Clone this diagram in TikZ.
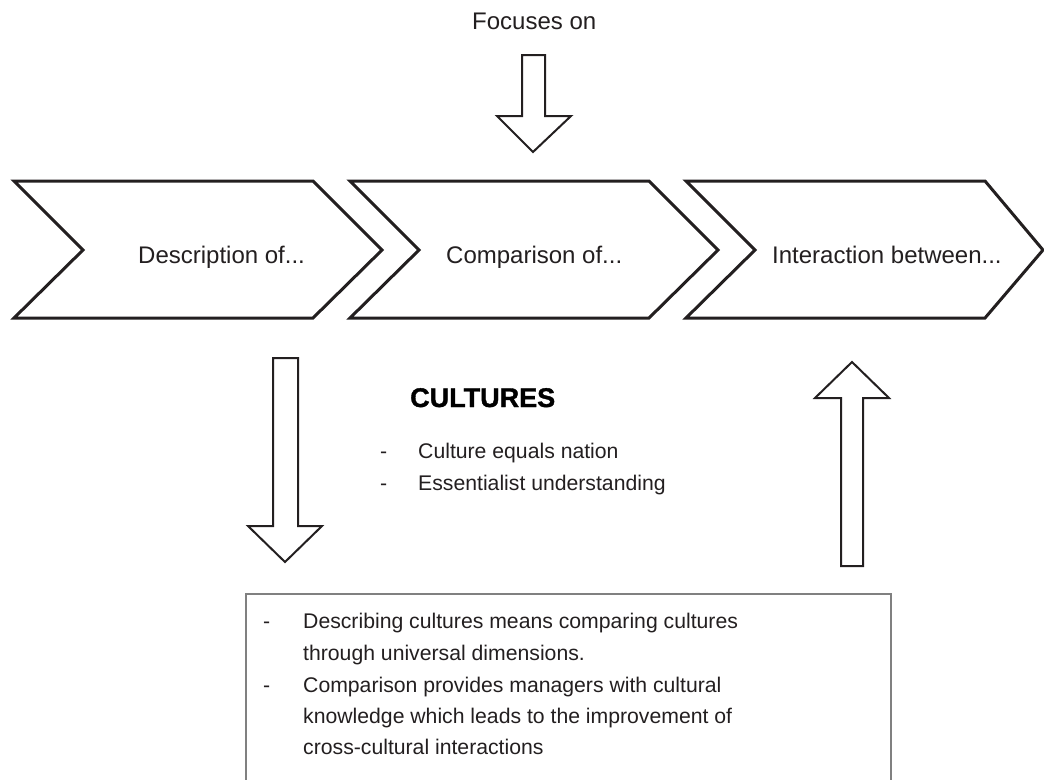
\documentclass[tikz,border=0pt]{standalone}
\usepackage{fontspec}
\setmainfont{Liberation Sans}
\newfontfamily\heavyfont{Liberation Sans}[BoldFeatures={FakeBold=1.3}]
\definecolor{ink}{HTML}{231F20}
\begin{document}
\begin{tikzpicture}[x=1pt,y=-1pt,
  chev/.style={draw=ink,line width=3pt,line join=miter,fill=white},
  blockarrow/.style={draw=ink,line width=2pt,line join=miter,fill=white},
  framebox/.style={draw=black!50,line width=1.5pt},
  big/.style={inner sep=0pt,anchor=base west,text=ink,font=\fontsize{24}{28}\selectfont},
  body/.style={inner sep=0pt,anchor=base west,text=ink,font=\fontsize{21.2}{26}\selectfont},
  heading/.style={inner sep=0pt,anchor=base west,text=black,font=\heavyfont\bfseries\fontsize{27}{30}\selectfont}]
\useasboundingbox (0,0) rectangle (1044,779);
\clip (0,0) rectangle (1044,779);
\fill[white] (0,0) rectangle (1044,779);

% top label and arrow
\node[big] (focus) at (472,29) {Focuses on};
\draw[blockarrow] (522,55) -- (545,55) -- (545,116) -- (571,116) -- (533,152) -- (497,116) -- (522,116) -- cycle;

% chevrons
\draw[chev] (14,181) -- (313,181) -- (382,250) -- (313,318) -- (14,318) -- (83,250) -- cycle;
\draw[chev] (350,181) -- (649,181) -- (718,250) -- (649,318) -- (350,318) -- (419,250) -- cycle;
\draw[chev] (686,181) -- (985,181) -- (1043,250) -- (985,318) -- (686,318) -- (755,250) -- cycle;
\node[big] (desc) at (138,263) {Description of...};
\node[big] (comp) at (446,263) {Comparison of...};
\node[big] (inter) at (772,263) {Interaction between...};

% down arrow (left)
\draw[blockarrow] (273,358) -- (298,358) -- (298,526) -- (322,526) -- (285,562) -- (248,526) -- (273,526) -- cycle;
% up arrow (right)
\draw[blockarrow] (841,566) -- (863,566) -- (863,398) -- (889,398) -- (852,362) -- (815,398) -- (841,398) -- cycle;

% cultures
\node[heading] (cult) at (410,407) {CULTURES};
\node[body] (d1) at (380,458) {-};
\node[body] (c1) at (418,458) {Culture equals nation};
\node[body] (d2) at (380,490) {-};
\node[body] (c2) at (418,490) {Essentialist understanding};

% bottom box
\draw[framebox] (246,594) rectangle (891,800);
\node[body] (b1d) at (263,628) {-};
\node[body] (b1a) at (303,628) {Describing cultures means comparing cultures};
\node[body] (b1b) at (303,660) {through universal dimensions.};
\node[body] (b2d) at (263,692) {-};
\node[body] (b2a) at (303,692) {Comparison provides managers with cultural};
\node[body] (b2b) at (303,723) {knowledge which leads to the improvement of};
\node[body] (b2c) at (303,754) {cross-cultural interactions};
\end{tikzpicture}
\end{document}
